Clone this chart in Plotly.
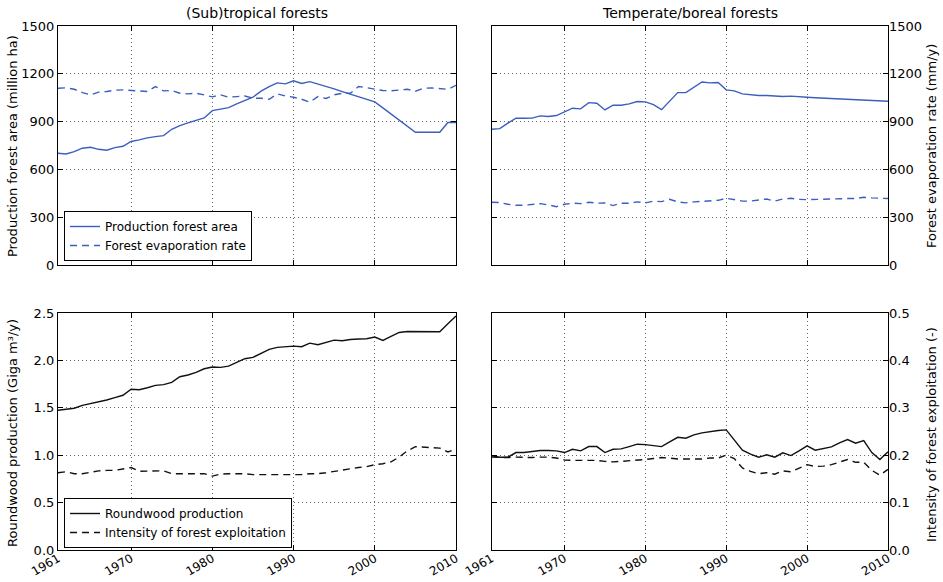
import plotly.graph_objects as go

years = list(range(1961, 2011))

# (Sub)tropical forests
trop_area = [701, 697, 712, 733, 739, 726, 720, 737, 745, 775,
             785, 798, 806, 812, 852, 875, 892, 906, 923, 969,
             978, 988, 1011, 1032, 1053, 1091, 1120, 1143, 1137, 1156,
             1139, 1151, 1137, 1121, 1105, 1088, 1072, 1057, 1041, 1024,
             986, 948, 910, 871, 833, 833, 833, 833, 894, 894]
trop_evap = [1109, 1112, 1103, 1082, 1068, 1085, 1089, 1097, 1099, 1095,
             1089, 1089, 1120, 1093, 1095, 1078, 1074, 1078, 1068, 1055,
             1068, 1053, 1057, 1061, 1047, 1047, 1040, 1074, 1061, 1053,
             1040, 1022, 1057, 1045, 1068, 1078, 1078, 1120, 1113, 1105,
             1095, 1093, 1099, 1103, 1091, 1109, 1111, 1109, 1103, 1128]
trop_wood = [1.474, 1.484, 1.495, 1.526, 1.544, 1.565, 1.582, 1.607, 1.632, 1.695,
             1.691, 1.712, 1.737, 1.744, 1.768, 1.828, 1.846, 1.874, 1.912, 1.930,
             1.926, 1.940, 1.982, 2.018, 2.032, 2.077, 2.116, 2.137, 2.147, 2.151,
             2.144, 2.182, 2.165, 2.189, 2.214, 2.207, 2.221, 2.225, 2.228, 2.246,
             2.211, 2.253, 2.295, 2.305, 2.305, 2.298, 2.302, 2.302, 2.386, 2.467]
trop_intensity = [0.163, 0.165, 0.161, 0.161, 0.164, 0.167, 0.168, 0.168, 0.171, 0.174,
                  0.166, 0.166, 0.166, 0.167, 0.161, 0.161, 0.161, 0.161, 0.161, 0.156,
                  0.160, 0.161, 0.161, 0.161, 0.159, 0.159, 0.158, 0.158, 0.159, 0.158,
                  0.159, 0.161, 0.161, 0.163, 0.166, 0.168, 0.171, 0.174, 0.176, 0.180,
                  0.182, 0.186, 0.196, 0.209, 0.218, 0.217, 0.216, 0.215, 0.207, 0.213]

# Temperate/boreal forests
temp_area = [852, 856, 890, 921, 921, 922, 936, 932, 938, 959,
             984, 980, 1019, 1015, 973, 1003, 1003, 1011, 1026, 1024,
             1007, 975, 1030, 1082, 1082, 1114, 1149, 1143, 1145, 1099,
             1093, 1074, 1068, 1064, 1064, 1060, 1058, 1060, 1055, 1053,
             1050, 1048, 1045, 1043, 1041, 1038, 1036, 1033, 1031, 1028]
temp_evap = [394, 392, 381, 375, 375, 381, 385, 377, 366, 381,
             388, 385, 394, 388, 390, 373, 388, 388, 396, 390,
             401, 398, 412, 396, 390, 396, 398, 404, 406, 419,
             412, 401, 401, 408, 414, 401, 414, 419, 412, 410,
             412, 412, 412, 417, 417, 417, 425, 421, 417, 417]
temp_wood = [0.993, 0.979, 0.979, 1.028, 1.028, 1.039, 1.049, 1.049, 1.046, 1.028,
             1.063, 1.046, 1.091, 1.091, 1.028, 1.063, 1.067, 1.091, 1.116, 1.112,
             1.105, 1.091, 1.140, 1.189, 1.179, 1.214, 1.235, 1.249, 1.260, 1.267,
             1.158, 1.053, 1.011, 0.979, 1.004, 0.979, 1.025, 0.996, 1.046, 1.098,
             1.053, 1.074, 1.088, 1.130, 1.165, 1.126, 1.154, 1.028, 0.954, 1.035]
temp_intensity = [0.196, 0.195, 0.195, 0.196, 0.195, 0.195, 0.196, 0.196, 0.194, 0.190,
                  0.189, 0.189, 0.189, 0.189, 0.187, 0.186, 0.187, 0.188, 0.189, 0.191,
                  0.193, 0.195, 0.194, 0.192, 0.192, 0.192, 0.192, 0.194, 0.194, 0.200,
                  0.193, 0.173, 0.166, 0.161, 0.163, 0.160, 0.167, 0.165, 0.172, 0.180,
                  0.176, 0.177, 0.180, 0.185, 0.191, 0.185, 0.185, 0.168, 0.158, 0.170]

x_ticks = [1961, 1970, 1980, 1990, 2000, 2010]
area_ticks = [0, 300, 600, 900, 1200, 1500]
wood_ticks = [0.0, 0.5, 1.0, 1.5, 2.0, 2.5]
intensity_ticks = [0.0, 0.1, 0.2, 0.3, 0.4, 0.5]

BLUE = "#3b5fbf"
BLACK = "#111111"
FONT = "DejaVu Sans"
DASH = "7px,5px"
LW = 1.4

W, H = 943, 582
ML, MR, MT, MB = 58, 55, 26, 32
PW, PH = W - ML - MR, H - MT - MB

col1 = [0.0, (456 - ML) / PW]
col2 = [(491.7 - ML) / PW, 1.0]
row_bot = [0.0, (550 - 313) / PH]
row_top = [(550 - 265) / PH, 1.0]

fig = go.Figure()

# Top-left: (sub)tropical area and evaporation
fig.add_trace(go.Scatter(x=years, y=trop_area, mode="lines", name="Production forest area",
                         line=dict(color=BLUE, width=LW), xaxis="x", yaxis="y", legend="legend"))
fig.add_trace(go.Scatter(x=years, y=trop_evap, mode="lines", name="Forest evaporation rate",
                         line=dict(color=BLUE, width=LW, dash=DASH), xaxis="x", yaxis="y2", legend="legend"))
# Top-right: temperate/boreal area and evaporation
fig.add_trace(go.Scatter(x=years, y=temp_area, mode="lines", showlegend=False,
                         line=dict(color=BLUE, width=LW), xaxis="x2", yaxis="y3"))
fig.add_trace(go.Scatter(x=years, y=temp_evap, mode="lines", showlegend=False,
                         line=dict(color=BLUE, width=LW, dash=DASH), xaxis="x2", yaxis="y4"))
# Bottom-left: (sub)tropical roundwood and intensity
fig.add_trace(go.Scatter(x=years, y=trop_wood, mode="lines", name="Roundwood production",
                         line=dict(color=BLACK, width=LW), xaxis="x3", yaxis="y5", legend="legend2"))
fig.add_trace(go.Scatter(x=years, y=trop_intensity, mode="lines", name="Intensity of forest exploitation",
                         line=dict(color=BLACK, width=LW, dash=DASH), xaxis="x3", yaxis="y6", legend="legend2"))
# Bottom-right: temperate/boreal roundwood and intensity
fig.add_trace(go.Scatter(x=years, y=temp_wood, mode="lines", showlegend=False,
                         line=dict(color=BLACK, width=LW), xaxis="x4", yaxis="y7"))
fig.add_trace(go.Scatter(x=years, y=temp_intensity, mode="lines", showlegend=False,
                         line=dict(color=BLACK, width=LW, dash=DASH), xaxis="x4", yaxis="y8"))

tickfont = dict(family=FONT, size=13, color="black")
xtickfont = dict(family=FONT, size=12, color="black")
grid = dict(showgrid=True, gridcolor="rgba(0,0,0,0.6)", gridwidth=1, griddash="1px,3px")
frame = dict(showline=True, linecolor="black", linewidth=1.2, mirror="ticks",
             ticks="inside", ticklen=5, tickcolor="black", zeroline=False)


def xaxis(domain, anchor, labels):
    return dict(domain=domain, anchor=anchor, range=[1961, 2010], tickvals=x_ticks,
                ticktext=[str(t) for t in x_ticks], showticklabels=labels,
                tickangle=-30, tickfont=xtickfont, ticklabelstandoff=-4, **grid, **frame)


def yaxis(domain, anchor, rng, ticks, labels, fmt):
    return dict(domain=domain, anchor=anchor, range=rng, tickvals=ticks,
                ticktext=[fmt.format(t) for t in ticks], showticklabels=labels,
                tickfont=tickfont, **grid, **frame)


def y_right(over, anchor, rng, ticks, labels, fmt):
    return dict(overlaying=over, anchor=anchor, side="right", range=rng, tickvals=ticks,
                ticktext=[fmt.format(t) for t in ticks], showticklabels=labels,
                tickfont=tickfont, showgrid=False, showline=False, zeroline=False,
                ticks="inside", ticklen=5, tickcolor="black")


fig.update_layout(
    xaxis=xaxis(col1, "y", False),
    xaxis2=xaxis(col2, "y3", False),
    xaxis3=xaxis(col1, "y5", True),
    xaxis4=xaxis(col2, "y7", True),
    yaxis=yaxis(row_top, "x", [0, 1500], area_ticks, True, "{:d}"),
    yaxis2=y_right("y", "x", [0, 1500], area_ticks, False, "{:d}"),
    yaxis3=yaxis(row_top, "x2", [0, 1500], area_ticks, False, "{:d}"),
    yaxis4=y_right("y3", "x2", [0, 1500], area_ticks, True, "{:d}"),
    yaxis5=yaxis(row_bot, "x3", [0, 2.5], wood_ticks, True, "{:.1f}"),
    yaxis6=y_right("y5", "x3", [0, 0.5], intensity_ticks, False, "{:.1f}"),
    yaxis7=yaxis(row_bot, "x4", [0, 2.5], wood_ticks, False, "{:.1f}"),
    yaxis8=y_right("y7", "x4", [0, 0.5], intensity_ticks, True, "{:.1f}"),
)

legend_style = dict(bgcolor="white", bordercolor="black", borderwidth=1,
                    font=dict(family=FONT, size=12, color="black"),
                    xanchor="left", yanchor="bottom", tracegroupgap=0, itemwidth=30)
fig.update_layout(
    legend=dict(x=(64 - ML) / PW, y=(550 - 261) / PH, **legend_style),
    legend2=dict(x=(64 - ML) / PW, y=(550 - 548) / PH, **legend_style),
)

annotations = [
    dict(text="(Sub)tropical forests", x=(col1[0] + col1[1]) / 2, y=1.0, yshift=3,
         xref="paper", yref="paper", xanchor="center", yanchor="bottom", showarrow=False,
         font=dict(family=FONT, size=14, color="black")),
    dict(text="Temperate/boreal forests", x=(col2[0] + col2[1]) / 2, y=1.0, yshift=3,
         xref="paper", yref="paper", xanchor="center", yanchor="bottom", showarrow=False,
         font=dict(family=FONT, size=14, color="black")),
    dict(text="Production forest area (million ha)", x=(12 - ML) / PW, y=(550 - 146) / PH,
         xref="paper", yref="paper", xanchor="center", yanchor="middle", textangle=-90,
         showarrow=False, font=dict(family=FONT, size=13, color="black")),
    dict(text="Roundwood production (Giga m³/y)", x=(12 - ML) / PW, y=(550 - 433) / PH,
         xref="paper", yref="paper", xanchor="center", yanchor="middle", textangle=-90,
         showarrow=False, font=dict(family=FONT, size=13, color="black")),
    dict(text="Forest evaporation rate (mm/y)", x=(931 - ML) / PW, y=(550 - 146) / PH,
         xref="paper", yref="paper", xanchor="center", yanchor="middle", textangle=-90,
         showarrow=False, font=dict(family=FONT, size=13, color="black")),
    dict(text="Intensity of forest exploitation (-)", x=(931 - ML) / PW, y=(550 - 435) / PH,
         xref="paper", yref="paper", xanchor="center", yanchor="middle", textangle=-90,
         showarrow=False, font=dict(family=FONT, size=13, color="black")),
]

fig.update_layout(
    width=W, height=H,
    margin=dict(l=ML, r=MR, t=MT, b=MB, autoexpand=False),
    paper_bgcolor="white", plot_bgcolor="white",
    font=dict(family=FONT, size=13, color="black"),
    annotations=annotations,
)

fig.write_html("out.html")
